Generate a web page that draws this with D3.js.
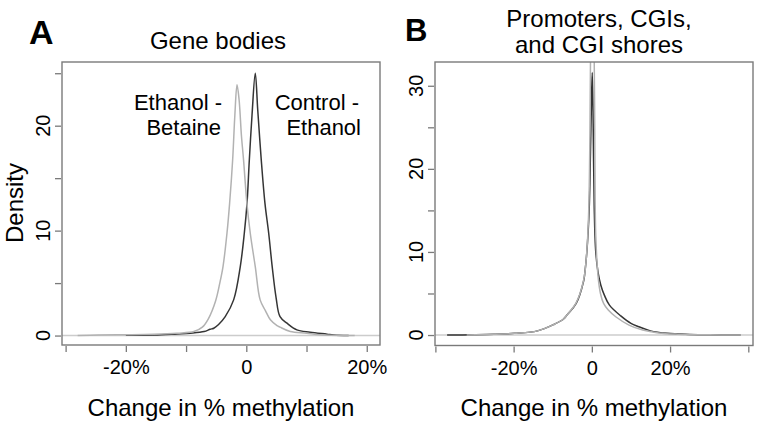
<!DOCTYPE html>
<html><head><meta charset="utf-8">
<script src="https://cdn.jsdelivr.net/npm/d3@7"></script>
<style>body{margin:0;background:#fff}text{font-family:"Liberation Sans",Arial,sans-serif}</style>
</head><body><svg id="c" width="762" height="428"></svg>
<script>
// ---- data ----
const panelTitles = [["Gene bodies"], ["Promoters, CGIs,", "and CGI shores"]];
const panelLetters = ["A", "B"];
const xLabel = "Change in % methylation";
const yLabel = "Density";
const seriesNames = ["Ethanol - Betaine", "Control - Ethanol"];

// Panel A (gene bodies): x = change in % methylation, y = density
const aGrayX = [-28,-24.7,-20,-15.3,-11.5,-8.7,-7.3,-6.3,-5.1,-4.4,-3.86,-3.2,-2.77,-2.27,-1.9,-1.54,-1.2,-0.8,-0.45,0.1,0.66,1.49,2.3,3.15,4.0,5.1,5.6,7.3,10,11.7,14,18];
const aGrayY = [0,0.05,0.08,0.13,0.23,0.38,0.8,1.6,3.3,5.0,6.6,9.8,12.6,16.7,21,23.9,22.5,19,16.7,12.6,9.75,6.57,3.4,2.4,1.5,0.95,0.8,0.38,0.23,0.1,0.03,0];
const aDarkX = [-20,-15.3,-11.5,-9.3,-7,-6,-5.4,-4.6,-3.5,-2.1,-1.0,-0.33,0.12,0.5,0.95,1.49,1.9,2.49,3.1,3.72,4.3,4.95,5.6,6.75,8.4,10.6,13.4,14.5,17];
const aDarkY = [0.02,0.05,0.16,0.23,0.38,0.6,0.7,1.05,1.8,3.4,6.57,9.75,12.6,16.7,21,25.0,21.5,16.7,12.6,9.75,6.57,3.6,1.8,1.18,0.54,0.32,0.13,0.05,0];

// Panel B (promoters, CGIs, shores)
const bDarkX = [-37,-30,-25,-19.8,-13.9,-9.6,-7.3,-6.2,-4.0,-2.1,-1.79,-1.28,-0.69,-0.35,-0.1,0.1,0.3,0.6,1.0,1.6,2.3,3.2,4.5,7.4,10,12,15,19.3,25,30,38];
const bDarkY = [0,0.03,0.08,0.2,0.5,1.3,1.9,2.5,3.8,6.5,7.5,10,15,22,28,31.6,27,15.5,10,7.5,6.0,4.8,3.6,2.3,1.4,1.0,0.5,0.2,0.07,0.02,0];
const bGrayX = [-32,-25,-19.8,-13.9,-9.6,-7.3,-6.2,-4.0,-2.1,-1.3,-0.8,-0.5,-0.33,0.1,0.59,0.8,1.0,1.6,2.2,3.0,4.2,6.1,9.5,13,17,22,30,38];
const bGrayY = [0,0.08,0.2,0.5,1.3,1.9,2.5,3.9,6.6,10,15,24,34,45,34,20,12,7.0,5.0,3.8,3.0,2.2,1.2,0.6,0.25,0.1,0.03,0];

const aXTicks = [-30,-20,-10,0,10,20], aXLabels = {"-20":"-20%","0":"0","20":"20%"};
const aYTicks = [0,5,10,15,20,25], aYLabels = {"0":"0","10":"10","20":"20"};
const bXTicks = [-40,-20,0,20,40], bXLabels = {"-20":"-20%","0":"0","20":"20%"};
const bYTicks = [0,5,10,15,20,25,30], bYLabels = {"0":"0","10":"10","20":"20","30":"30"};

// ---- drawing ----
const svg = d3.select("#c");
const DARK = "#353535", GRAY = "#b2b2b2", FRAME = "#7a7a7a";

function panel(o) {
  const x = d3.scaleLinear().domain(o.xd).range([o.l, o.r]);
  const y = d3.scaleLinear().domain(o.yd).range([o.b, o.t]);
  const g = svg.append("g");
  const id = "clip" + o.key;
  svg.append("clipPath").attr("id", id).append("rect")
    .attr("x", o.l).attr("y", o.t).attr("width", o.r - o.l).attr("height", o.b - o.t);
  // zero line
  g.append("line").attr("x1", o.l).attr("x2", o.r).attr("y1", y(0)).attr("y2", y(0))
    .attr("stroke", "#cccccc").attr("stroke-width", 1.4);
  const line = d3.line().x(d => x(d[0])).y(d => y(d[1])).curve(d3.curveCatmullRom.alpha(0.5));
  o.series.forEach(s => {
    g.append("path").attr("clip-path", `url(#${id})`)
      .datum(s.xs.map((v, i) => [v, s.ys[i]]))
      .attr("d", line).attr("fill", "none").attr("stroke", s.color).attr("stroke-width", 1.5)
      .attr("stroke-linejoin", "round");
  });
  // frame
  g.append("rect").attr("x", o.l).attr("y", o.t).attr("width", o.r - o.l).attr("height", o.b - o.t)
    .attr("fill", "none").attr("stroke", FRAME).attr("stroke-width", 1.4);
  // x axis
  const xa = g.append("g").attr("transform", `translate(0,${o.b + 1})`)
    .call(d3.axisBottom(x).tickValues(o.xt).tickSize(6).tickPadding(8)
      .tickFormat(v => o.xl[String(v)] || ""));
  xa.select(".domain").remove();
  xa.selectAll("line").attr("stroke", FRAME).attr("stroke-width", 1.3);
  xa.selectAll("text").attr("font-size", 20).attr("fill", "#000");
  // y axis
  const ya = g.append("g").attr("transform", `translate(${o.l - 1},0)`)
    .call(d3.axisLeft(y).tickValues(o.yt).tickSize(6).tickFormat(""));
  ya.select(".domain").remove();
  ya.selectAll("line").attr("stroke", FRAME).attr("stroke-width", 1.3);
  o.yt.forEach(v => {
    const lab = o.yl[String(v)];
    if (!lab) return;
    g.append("text").attr("transform", `translate(${o.l - 12},${y(v)}) rotate(-90)`)
      .attr("text-anchor", "middle").attr("font-size", 20).text(lab);
  });
  // x label
  g.append("text").attr("x", (o.l + o.r) / 2).attr("y", 416).attr("text-anchor", "middle")
    .attr("font-size", 24).text(xLabel);
  // title
  o.title.forEach((t, i) => g.append("text").attr("x", o.tx).attr("y", o.ty + i * 26)
    .attr("text-anchor", "middle").attr("font-size", 24).text(t));
  // letter
  g.append("text").attr("x", o.lx).attr("y", o.ly).attr("font-size", o.ls)
    .attr("font-weight", "bold").text(o.letter);
  return {x, y, g};
}

const pA = panel({key: "A", l: 62, r: 380, t: 62, b: 345, xd: [-30.6, 22.2], yd: [-0.9, 26.07],
  xt: aXTicks, xl: aXLabels, yt: aYTicks, yl: aYLabels, title: panelTitles[0], tx: 218, ty: 49,
  letter: panelLetters[0], lx: 29, ly: 44, ls: 34,
  series: [{xs: aDarkX, ys: aDarkY, color: DARK}, {xs: aGrayX, ys: aGrayY, color: GRAY}]});
const pB = panel({key: "B", l: 435, r: 753, t: 62, b: 345.5, xd: [-40.1, 41.2], yd: [-1.26, 32.86],
  xt: bXTicks, xl: bXLabels, yt: bYTicks, yl: bYLabels, title: panelTitles[1], tx: 599, ty: 27,
  letter: panelLetters[1], lx: 405, ly: 41, ls: 31,
  series: [{xs: bDarkX, ys: bDarkY, color: DARK}, {xs: bGrayX, ys: bGrayY, color: GRAY}]});

// y axis title (panel A only)
svg.append("text").attr("transform", "translate(23,203) rotate(-90)").attr("text-anchor", "middle")
  .attr("font-size", 24).text(yLabel);

// curve annotations in panel A
const ann = [["Ethanol -", 222, 110], ["Betaine", 221, 135], ["Control -", 359, 110], ["Ethanol", 361, 135]];
ann.forEach(a => svg.append("text").attr("x", a[1]).attr("y", a[2]).attr("text-anchor", "end")
  .attr("font-size", 22).text(a[0]));
</script></body></html>
